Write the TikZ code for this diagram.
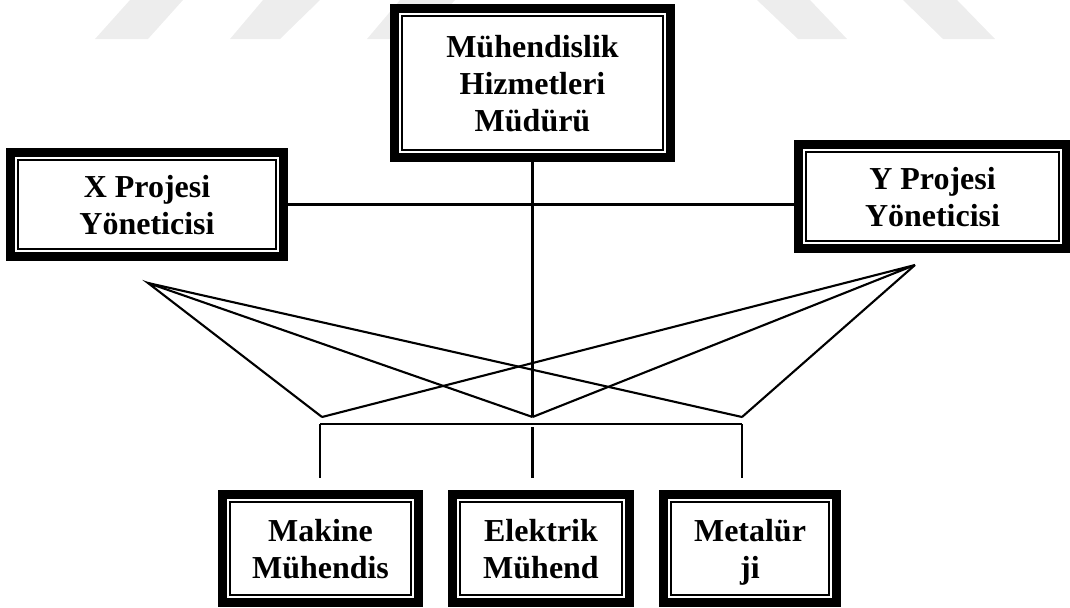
\documentclass[tikz,border=0pt]{standalone}
\usepackage{fontspec}
\setmainfont{Liberation Serif}
\usetikzlibrary{calc}

\begin{document}
\begin{tikzpicture}[
  dbox/.style={draw, fill=white, line width=5.1pt, align=center, inner sep=0pt,
    text depth=0pt, font=\fontsize{18.2}{21}\selectfont\bfseries,
    path picture={\draw[line width=1.1pt]
      ([shift={(4.4pt,-4.4pt)}]path picture bounding box.north west) rectangle
      ([shift={(-4.4pt,4.4pt)}]path picture bounding box.south east);}},
  ln/.style={line width=1.2pt},
  drop/.style={line width=1.2pt, shorten >=0.25cm},
  wmark/.style={fill=black!7, draw=none}
]
  \useasboundingbox (0,0) rectangle (21.4,12.14);

  % faint watermark stripes
  \fill[wmark] (2.60,12.14) -- (3.66,12.14) -- (2.96,11.36) -- (1.90,11.36) -- cycle;
  \fill[wmark] (5.26,12.14) -- (6.40,12.14) -- (5.60,11.36) -- (4.60,11.36) -- cycle;
  \fill[wmark] (8.00,12.14) -- (9.10,12.14) -- (8.40,11.36) -- (7.34,11.36) -- cycle;
  \fill[wmark] (15.14,12.14) -- (16.20,12.14) -- (16.94,11.36) -- (15.96,11.36) -- cycle;
  \fill[wmark] (18.06,12.14) -- (19.14,12.14) -- (19.90,11.36) -- (18.86,11.36) -- cycle;

  \node[dbox, minimum width=5.52cm, minimum height=2.98cm] (mgr) at (10.65,10.48) {Mühendislik\\Hizmetleri\\Müdürü};

  % project managers
  \node[dbox, minimum width=5.46cm, minimum height=2.08cm] (xp) at (2.94,8.05) {X Projesi\\Yöneticisi};
  \node[dbox, minimum width=5.36cm, minimum height=2.08cm] (yp) at (18.65,8.21) {Y Projesi\\Yöneticisi};

  % functional units
  \node[dbox, minimum width=3.92cm, minimum height=2.16cm] (mak) at (6.41,1.17) {Makine\\Mühendis};
  \node[dbox, minimum width=3.54cm, minimum height=2.16cm] (ele) at (10.82,1.17) {Elektrik\\Mühend};
  \node[dbox, minimum width=3.46cm, minimum height=2.16cm] (met) at (15.00,1.17) {Metalür\\ji};

  \coordinate (xa) at (2.96,6.48);
  \coordinate (ya) at (18.30,6.84);
  \coordinate (j1) at (6.44,3.80);
  \coordinate (j2) at (10.65,3.80);
  \coordinate (j3) at (14.84,3.80);
  \coordinate (b1) at (6.40,3.66);
  \coordinate (b2) at (10.65,3.60);
  \coordinate (b3) at (14.84,3.66);

  \draw[ln] (xp.east) -- (xp.east -| yp.west);
  \draw[ln] (mgr.south) -- (j2);

  % matrix links
  \draw[ln] (j1) -- (xa) -- (j2);
  \draw[ln] (xa) -- (j3);
  \draw[ln] (j1) -- (ya) -- (j2);
  \draw[ln] (ya) -- (j3);

  \draw[ln] (b1 |- b3) -- (b3);
  \draw[drop] (b1) -- (b1 |- mak.north);
  \draw[drop] (b2) -- (b2 |- ele.north);
  \draw[drop] (b3) -- (b3 |- met.north);
\end{tikzpicture}
\end{document}
